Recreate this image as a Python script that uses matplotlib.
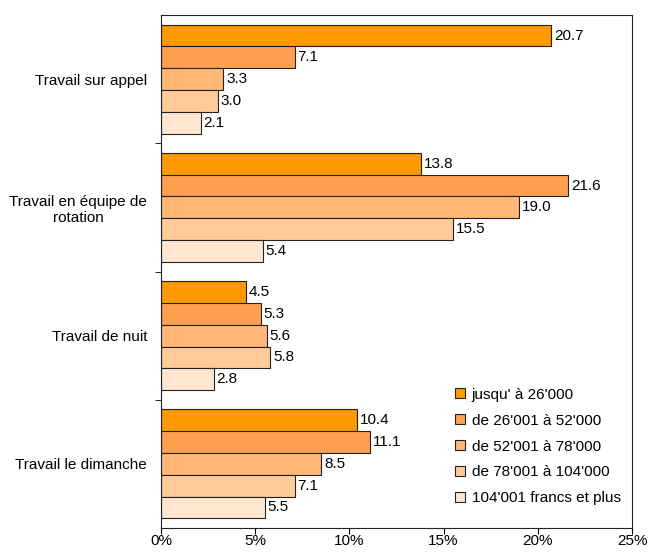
import numpy as np
import matplotlib.pyplot as plt
from matplotlib.patches import Patch

plt.rcParams['font.family'] = ['Liberation Sans', 'DejaVu Sans']

categories = ["Travail sur appel", "Travail en équipe de\nrotation",
              "Travail de nuit", "Travail le dimanche"]
series_names = ["jusqu' à 26'000", "de 26'001 à 52'000", "de 52'001 à 78'000",
                "de 78'001 à 104'000", "104'001 francs et plus"]
values = [
    [20.7, 13.8, 4.5, 10.4],   # jusqu' à 26'000
    [7.1, 21.6, 5.3, 11.1],    # de 26'001 à 52'000
    [3.3, 19.0, 5.6, 8.5],     # de 52'001 à 78'000
    [3.0, 15.5, 5.8, 7.1],     # de 78'001 à 104'000
    [2.1, 5.4, 2.8, 5.5],      # 104'001 francs et plus
]
colors = ["#FF9900", "#FF9F4F", "#FFB877", "#FFCC99", "#FFE6D0"]
xticks = [0, 5, 10, 15, 20, 25]

fig = plt.figure(figsize=(6.48, 5.54), dpi=100)
ax = fig.add_axes([161 / 648, 1 - 528 / 554, (632 - 161) / 648, (528 - 15) / 554])

fs = 11
h = 0.17
y = np.arange(len(categories))
for i, (name, vals, c) in enumerate(zip(series_names, values, colors)):
    pos = y + (i - 2) * h
    ax.barh(pos, vals, height=h, color=c, edgecolor="#222222", linewidth=0.8, label=name)
    for p, v in zip(pos, vals):
        ax.text(v + 0.15, p, f"{v:.1f}", va="center", ha="left", fontsize=fs)

ax.set_xlim(0, 25)
ax.set_ylim(3.5, -0.5)
ax.set_xticks(xticks)
ax.set_xticklabels([f"{t}%" for t in xticks], fontsize=fs)
ax.set_yticks(y)
ax.set_yticklabels(categories, fontsize=fs, ha="right", multialignment="center")
ax.tick_params(axis="y", which="major", length=0, pad=10)
ax.set_yticks([0.5, 1.5, 2.5], minor=True)
ax.tick_params(axis="y", which="minor", length=4, direction="out")
ax.tick_params(axis="x", length=4, direction="out", pad=0.5)
for s in ax.spines.values():
    s.set_linewidth(0.8)
    s.set_color("#222222")

handles = [Patch(facecolor=c, edgecolor="#222222", linewidth=0.8) for c in colors]
ax.legend(handles, series_names, loc="upper left", bbox_to_anchor=(441 / 648, 1 - 374 / 554),
          bbox_transform=fig.transFigure, frameon=False, fontsize=fs,
          handlelength=0.65, handleheight=0.65, handletextpad=0.45, labelspacing=0.78)

fig.savefig("out.png", dpi=100)
